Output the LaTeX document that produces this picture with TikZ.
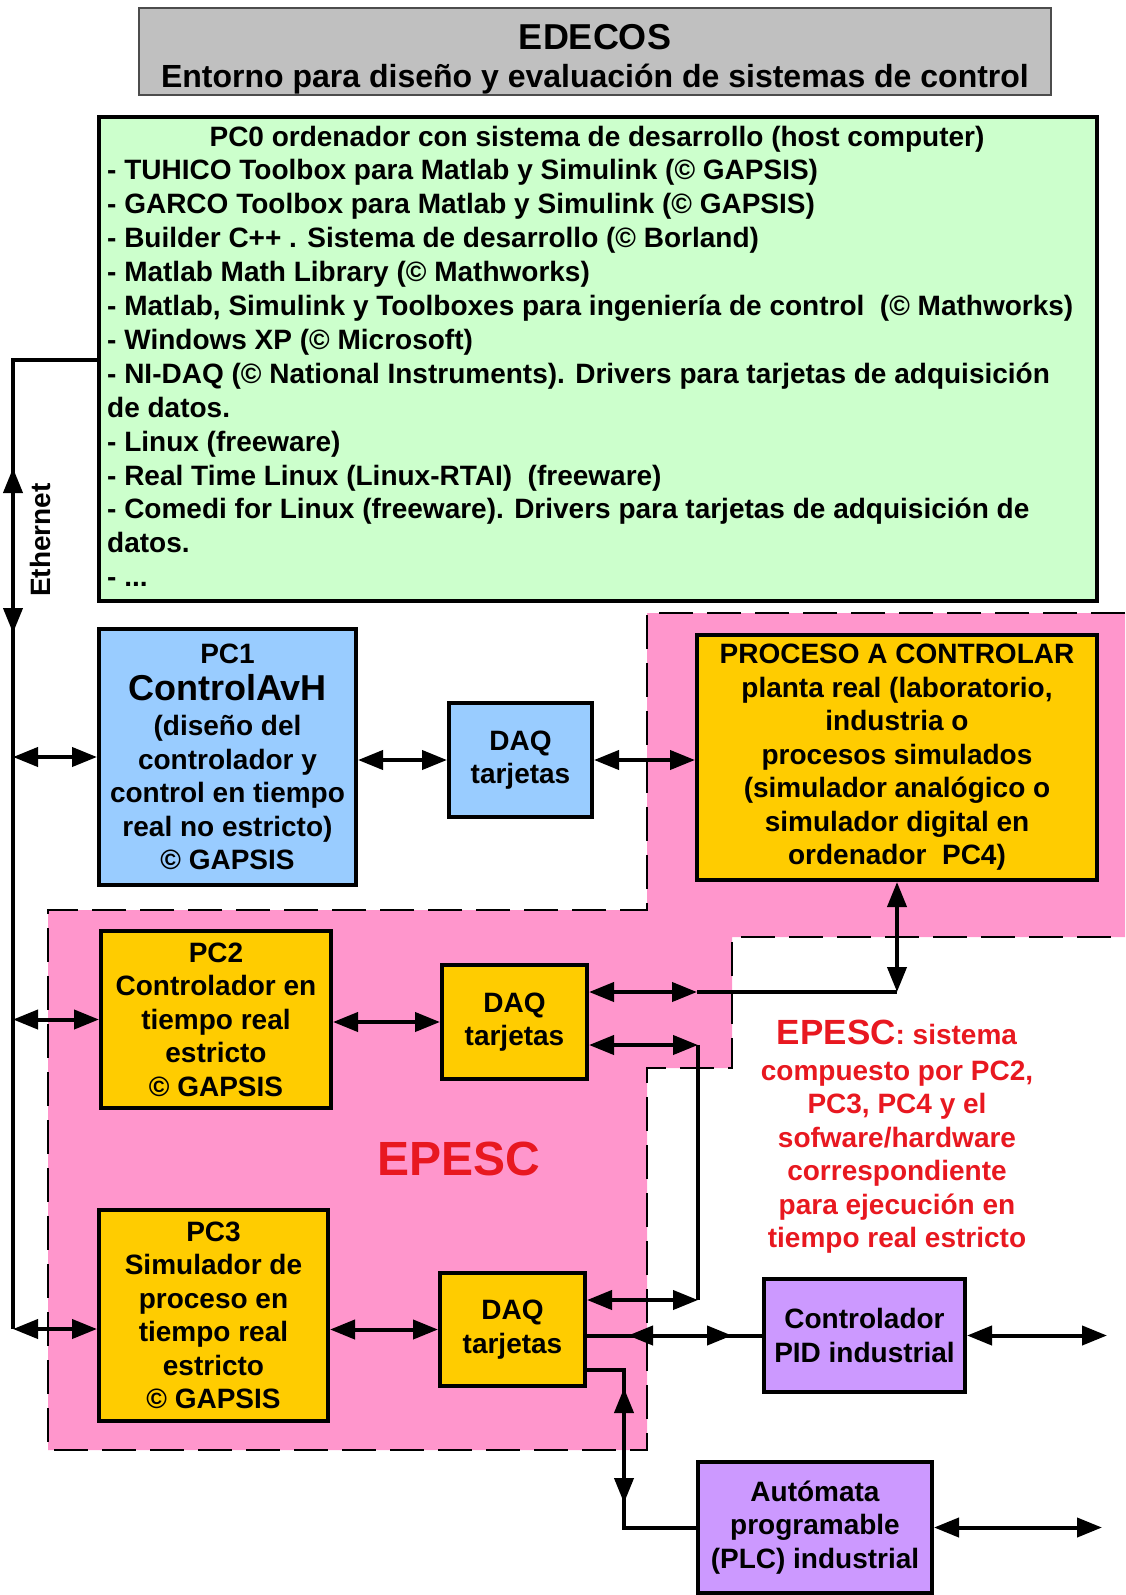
\documentclass[tikz,border=0pt]{standalone}
\usepackage{fontspec}
\setmainfont{Liberation Sans}
\usetikzlibrary{arrows.meta}

\definecolor{titlegray}{RGB}{192,192,192}
\definecolor{hostgreen}{RGB}{204,255,204}
\definecolor{pcblue}{RGB}{153,204,255}
\definecolor{pcyellow}{RGB}{255,204,0}
\definecolor{epescpink}{RGB}{255,150,204}
\definecolor{indpurple}{RGB}{204,153,255}
\definecolor{epescred}{RGB}{232,24,32}

\begin{document}
\begin{tikzpicture}[x=1pt, y=-1pt,
            txt/.style={font=\fontsize{28}{33.5}\selectfont\bfseries, inner sep=0pt},
            box/.style={draw, line width=4pt, align=center, inner sep=0pt, font=\fontsize{28}{33.5}\selectfont\bfseries},
            dbl/.style={line width=4pt, {Triangle[length=25pt,width=19pt]}-{Triangle[length=25pt,width=19pt]}},
            wire/.style={line width=4pt}]
            \useasboundingbox (0,0) rectangle (1125,1595);
            % EPESC region
            \fill[epescpink] (647,613) -- (1125,613) -- (1125,937) -- (732,937) -- (732,1068) -- (647,1068)
                -- (647,1450) -- (48,1450) -- (48,910) -- (647,910) -- cycle;
            \draw[line width=2.5pt, dash pattern=on 34pt off 14pt] (1125,613) -- (647,613) -- (647,910) -- (48,910)
                -- (48,1450) -- (647,1450) -- (647,1068) -- (732,1068) -- (732,937) -- (1125,937);
            % Title
            \node[draw=black!70, line width=1.2pt, fill=titlegray, minimum width=912pt, minimum height=87pt] (title) at (595,51.5) {};
            \node[txt, anchor=base, font=\fontsize{36}{40}\selectfont\bfseries] (edecos) at (595,49) {EDECOS};
            \node[txt, anchor=base, font=\fontsize{32}{36}\selectfont\bfseries] (entorno) at (595,87.5) {Entorno para diseño y evaluación de sistemas de control};
            % Host computer
            \node[box, fill=hostgreen, minimum width=998pt, minimum height=484pt] (pc0) at (598,359) {};
            \node[txt, anchor=base] (pc0h) at (597,146) {PC0 ordenador con sistema de desarrollo (host computer)};
            \foreach \entry [count=\i] in {
                {- TUHICO Toolbox para Matlab y Simulink (© GAPSIS)},
                {- GARCO Toolbox para Matlab y Simulink (© GAPSIS)},
                {- Builder C++ . Sistema de desarrollo (© Borland)},
                {- Matlab Math Library (© Mathworks)},
                {- Matlab, Simulink y Toolboxes para ingeniería de control\ \ (© Mathworks)},
                {- Windows XP (© Microsoft)},
                {- NI-DAQ (© National Instruments). Drivers para tarjetas de adquisición},
                {de datos.},
                {- Linux (freeware)},
                {- Real Time Linux (Linux-RTAI)\ \ (freeware)},
                {- Comedi for Linux (freeware). Drivers para tarjetas de adquisición de},
                {datos.},
                {- .{}.{}.}} {
                \node[txt, anchor=base west] (pc0l\i) at (107, 146+\i*33.9) {\entry};
            }
            % Boxes
            \node[box, fill=pcblue, minimum width=257pt, minimum height=256pt] (pc1) at (227.5,757)
                {PC1\\[3pt]{\fontsize{36}{40}\selectfont ControlAvH}\\[2pt](diseño del\\controlador y\\control en tiempo\\real no estricto)\\© GAPSIS};
            \node[box, fill=pcblue, minimum width=143pt, minimum height=114pt] (daq1) at (520.5,760) {DAQ\\tarjetas};
            \node[box, fill=pcyellow, minimum width=400pt, minimum height=245pt] (proc) at (897,757.5)
                {PROCESO A CONTROLAR\\planta real (laboratorio,\\industria o\\procesos simulados\\(simulador analógico o\\simulador digital en\\ordenador\ \ PC4)};
            \node[box, fill=pcyellow, minimum width=230pt, minimum height=177pt] (pc2) at (216,1019.5)
                {PC2\\Controlador en\\tiempo real\\estricto\\© GAPSIS};
            \node[box, fill=pcyellow, minimum width=145pt, minimum height=114pt] (daq2) at (514.5,1022) {DAQ\\tarjetas};
            \node[box, fill=pcyellow, minimum width=229pt, minimum height=211pt] (pc3) at (213.5,1315.5)
                {PC3\\Simulador de\\proceso en\\tiempo real\\estricto\\© GAPSIS};
            \node[box, fill=pcyellow, minimum width=145pt, minimum height=113pt] (daq3) at (512.5,1329.5) {DAQ\\tarjetas};
            \node[box, fill=indpurple, minimum width=201pt, minimum height=113pt] (pid) at (864.5,1335.5) {Controlador\\PID industrial};
            \node[box, fill=indpurple, minimum width=234pt, minimum height=131pt] (plc) at (815,1527.5) {Autómata\\programable\\(PLC) industrial};
            % Labels
            \node[txt, text=epescred, font=\fontsize{48}{50}\selectfont\bfseries] (epesc) at (459,1159) {EPESC};
            \node[txt, text=epescred, align=center] (epescnote) at (897,1137)
                {{\fontsize{35}{38}\selectfont EPESC}: sistema\\[2pt]compuesto por PC2,\\PC3, PC4 y el\\sofware/hardware\\correspondiente\\para ejecución en\\tiempo real estricto};
            \node[txt, rotate=90] (eth) at (40,540) {Ethernet};
            % Ethernet bus
            \coordinate (etop) at (13,360);
            \coordinate (ebot) at (13,1329);
            \coordinate (eup) at (13,468);
            \coordinate (edown) at (13,633);
            \draw[wire] (pc0.west |- etop) -- (etop) -- (ebot);
            \draw[dbl] (eup) -- (edown);
            \draw[dbl] (etop |- pc1.west) -- (pc1.west);
            \draw[dbl] (etop |- pc2.west) -- (pc2.west);
            \draw[dbl] (ebot) -- (ebot -| pc3.west);
            % Edges
            \draw[dbl] (daq1.west -| pc1.east) -- (daq1.west);
            \draw[dbl] (daq1.east) -- (daq1.east -| proc.west);
            \draw[dbl] (daq2.west -| pc2.east) -- (daq2.west);
            \draw[dbl] (daq3.west -| pc3.east) -- (daq3.west);
            \coordinate (k1) at (697,992);
            \coordinate (k2) at (897,992);
            \draw[dbl] (daq2.east |- k1) -- (k1);
            \draw[wire] (k1) -- (k2);
            \draw[dbl] (k2) -- (proc.south);
            \coordinate (k3) at (698,1045);
            \coordinate (k4) at (698,1300);
            \draw[dbl] (daq2.east |- k3) -- (k3);
            \draw[wire] (k3) -- (k4);
            \draw[dbl] (k4) -- (daq3.east |- k4);
            \coordinate (k5) at (628,1335.5);
            \coordinate (k6) at (732,1335.5);
            \draw[wire] (daq3.east |- k5) -- (pid.west);
            \draw[dbl] (k5) -- (k6);
            \coordinate (k7) at (624,1370);
            \coordinate (k8) at (624,1527.5);
            \coordinate (k9) at (624,1388);
            \coordinate (k10) at (624,1503);
            \draw[wire] (daq3.east |- k7) -- (k7) -- (k8) -- (plc.west);
            \draw[dbl] (k9) -- (k10);
            \coordinate (o1) at (1107,1335.5);
            \coordinate (o2) at (1102,1527.5);
            \draw[dbl] (pid.east) -- (o1);
            \draw[dbl] (plc.east) -- (o2);
        \end{tikzpicture}
\end{document}
